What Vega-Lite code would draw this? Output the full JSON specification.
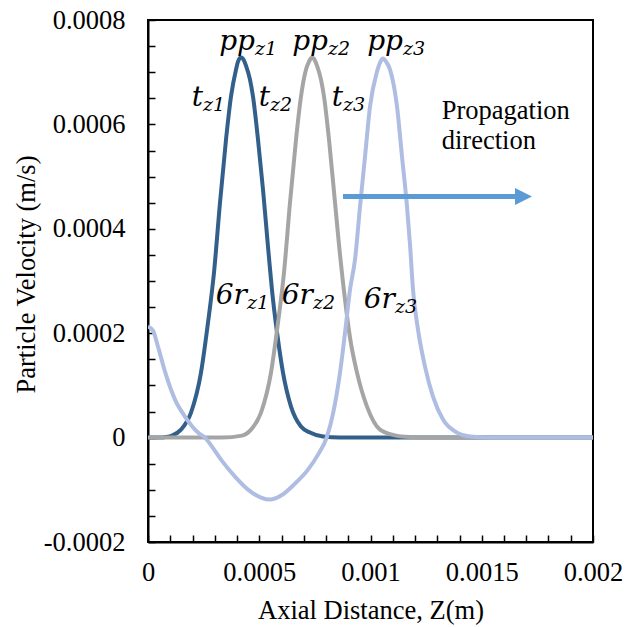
{
  "$schema": "https://vega.github.io/schema/vega-lite/v6.json",
  "width": 445,
  "height": 522,
  "autosize": {"type": "none"},
  "padding": {"left": 148, "top": 20, "right": 45, "bottom": 85},
  "background": "white",
  "config": {
    "view": {"stroke": "black", "strokeWidth": 2},
    "axis": {
      "grid": false,
      "domainColor": "black",
      "domainWidth": 2,
      "tickColor": "black",
      "tickWidth": 1.5,
      "tickSize": -7,
      "labelFont": "Liberation Serif",
      "labelFontSize": 26.5,
      "labelColor": "black",
      "labelOverlap": false,
      "labelFlush": false,
      "titleFont": "Liberation Serif",
      "titleFontSize": 26.5,
      "titleFontWeight": "normal",
      "titleColor": "black"
    }
  },
  "encoding": {
    "x": {
      "field": "x",
      "type": "quantitative",
      "scale": {"domain": [0, 0.002], "nice": false, "zero": false},
      "axis": {
        "title": "Axial Distance, Z(m)",
        "values": [0, 0.0001, 0.0002, 0.0003, 0.0004, 0.0005, 0.0006, 0.0007, 0.0008, 0.0009, 0.001, 0.0011, 0.0012, 0.0013, 0.0014, 0.0015, 0.0016, 0.0017, 0.0018, 0.0019, 0.002],
        "labelExpr": "round(datum.value*10000) % 5 == 0 ? (datum.value == 0 ? '0' : format(datum.value, '~g')) : ''",
        "labelPadding": 24,
        "titlePadding": 12
      }
    },
    "y": {
      "field": "y",
      "type": "quantitative",
      "scale": {"domain": [-0.0002, 0.0008], "nice": false, "zero": false},
      "axis": {
        "title": "Particle Velocity (m/s)",
        "values": [-0.0002, -0.00015, -0.0001, -0.00005, 0, 0.00005, 0.0001, 0.00015, 0.0002, 0.00025, 0.0003, 0.00035, 0.0004, 0.00045, 0.0005, 0.00055, 0.0006, 0.00065, 0.0007, 0.00075, 0.0008],
        "labelExpr": "abs(round(datum.value*100000)) % 20 == 0 ? (datum.value == 0 ? '0' : (datum.value < 0 ? '-' : '') + format(abs(datum.value), '.4f')) : ''",
        "labelPadding": 30,
        "titlePadding": 3,
        "titleY": 254
      }
    }
  },
  "layer": [
    {
      "data": {"values": [
        {"s": "z1", "x": 0, "y": 0}, {"s": "z1", "x": 0.0000539, "y": 0}, {"s": "z1", "x": 0.0000764, "y": 0.000001},
        {"s": "z1", "x": 0.0001079, "y": 0.0000038}, {"s": "z1", "x": 0.0001483, "y": 0.0000153}, {"s": "z1", "x": 0.0001933, "y": 0.0000479},
        {"s": "z1", "x": 0.0002382, "y": 0.0001245}, {"s": "z1", "x": 0.0002697, "y": 0.0002203}, {"s": "z1", "x": 0.0002966, "y": 0.0003161},
        {"s": "z1", "x": 0.0003236, "y": 0.0004502}, {"s": "z1", "x": 0.0003506, "y": 0.0005709}, {"s": "z1", "x": 0.000373, "y": 0.0006533},
        {"s": "z1", "x": 0.0003955, "y": 0.000705}, {"s": "z1", "x": 0.0004045, "y": 0.0007203}, {"s": "z1", "x": 0.000418, "y": 0.000728},
        {"s": "z1", "x": 0.0004315, "y": 0.0007222}, {"s": "z1", "x": 0.0004404, "y": 0.0007126}, {"s": "z1", "x": 0.0004584, "y": 0.0006858},
        {"s": "z1", "x": 0.0004719, "y": 0.0006533}, {"s": "z1", "x": 0.0004944, "y": 0.0005709}, {"s": "z1", "x": 0.0005169, "y": 0.0004751},
        {"s": "z1", "x": 0.0005393, "y": 0.0003659}, {"s": "z1", "x": 0.0005618, "y": 0.0002644}, {"s": "z1", "x": 0.0005843, "y": 0.0001877},
        {"s": "z1", "x": 0.0006067, "y": 0.0001245}, {"s": "z1", "x": 0.0006427, "y": 0.0000594}, {"s": "z1", "x": 0.0006876, "y": 0.0000211},
        {"s": "z1", "x": 0.0007281, "y": 0.0000096}, {"s": "z1", "x": 0.0007865, "y": 0.0000019}, {"s": "z1", "x": 0.0008629, "y": 0},
        {"s": "z1", "x": 0.002, "y": 0},

        {"s": "z2", "x": 0, "y": 0}, {"s": "z2", "x": 0.0003326, "y": 0}, {"s": "z2", "x": 0.0004225, "y": 0.0000038},
        {"s": "z2", "x": 0.0004629, "y": 0.0000153}, {"s": "z2", "x": 0.0005079, "y": 0.0000479}, {"s": "z2", "x": 0.0005528, "y": 0.0001245},
        {"s": "z2", "x": 0.0005843, "y": 0.0002203}, {"s": "z2", "x": 0.0006112, "y": 0.0003161}, {"s": "z2", "x": 0.0006382, "y": 0.0004502},
        {"s": "z2", "x": 0.0006652, "y": 0.0005709}, {"s": "z2", "x": 0.0006876, "y": 0.0006533}, {"s": "z2", "x": 0.0007101, "y": 0.000705},
        {"s": "z2", "x": 0.0007236, "y": 0.0007203}, {"s": "z2", "x": 0.0007371, "y": 0.000728}, {"s": "z2", "x": 0.0007506, "y": 0.0007222},
        {"s": "z2", "x": 0.0007595, "y": 0.0007126}, {"s": "z2", "x": 0.0007775, "y": 0.0006858}, {"s": "z2", "x": 0.000791, "y": 0.0006533},
        {"s": "z2", "x": 0.0008135, "y": 0.0005709}, {"s": "z2", "x": 0.0008359, "y": 0.0004713}, {"s": "z2", "x": 0.0008584, "y": 0.0003697},
        {"s": "z2", "x": 0.0008854, "y": 0.0002644}, {"s": "z2", "x": 0.0009079, "y": 0.0001916}, {"s": "z2", "x": 0.0009393, "y": 0.0001245},
        {"s": "z2", "x": 0.0009843, "y": 0.0000594}, {"s": "z2", "x": 0.0010427, "y": 0.0000153}, {"s": "z2", "x": 0.0011056, "y": 0.0000048},
        {"s": "z2", "x": 0.0011776, "y": 0.000001}, {"s": "z2", "x": 0.0012675, "y": 0}, {"s": "z2", "x": 0.002, "y": 0},

        {"s": "z3", "x": 0, "y": 0.0002126}, {"s": "z3", "x": 0.0000225, "y": 0.000205}, {"s": "z3", "x": 0.0000449, "y": 0.0001743},
        {"s": "z3", "x": 0.0000764, "y": 0.0001264}, {"s": "z3", "x": 0.0001214, "y": 0.0000728}, {"s": "z3", "x": 0.0001663, "y": 0.0000402},
        {"s": "z3", "x": 0.0002247, "y": 0.0000096}, {"s": "z3", "x": 0.0002562, "y": 0}, {"s": "z3", "x": 0.0002876, "y": -0.0000172},
        {"s": "z3", "x": 0.0003281, "y": -0.0000421}, {"s": "z3", "x": 0.000391, "y": -0.0000747}, {"s": "z3", "x": 0.0004495, "y": -0.0000996},
        {"s": "z3", "x": 0.0005079, "y": -0.0001149}, {"s": "z3", "x": 0.0005483, "y": -0.0001188}, {"s": "z3", "x": 0.0005978, "y": -0.0001111},
        {"s": "z3", "x": 0.0006607, "y": -0.0000881}, {"s": "z3", "x": 0.0007191, "y": -0.0000613}, {"s": "z3", "x": 0.0007641, "y": -0.0000326},
        {"s": "z3", "x": 0.0008045, "y": 0.0000019}, {"s": "z3", "x": 0.0008315, "y": 0.000046}, {"s": "z3", "x": 0.000863, "y": 0.0001245},
        {"s": "z3", "x": 0.0008855, "y": 0.0002011}, {"s": "z3", "x": 0.0009079, "y": 0.0002835}, {"s": "z3", "x": 0.0009304, "y": 0.000341},
        {"s": "z3", "x": 0.0009529, "y": 0.0004425}, {"s": "z3", "x": 0.0009754, "y": 0.0005383}, {"s": "z3", "x": 0.0009978, "y": 0.0006341},
        {"s": "z3", "x": 0.0010293, "y": 0.0007011}, {"s": "z3", "x": 0.0010428, "y": 0.0007184}, {"s": "z3", "x": 0.0010563, "y": 0.0007261},
        {"s": "z3", "x": 0.0010698, "y": 0.0007203}, {"s": "z3", "x": 0.0010877, "y": 0.000705}, {"s": "z3", "x": 0.0011192, "y": 0.0006341},
        {"s": "z3", "x": 0.0011416, "y": 0.0005383}, {"s": "z3", "x": 0.0011641, "y": 0.0004425}, {"s": "z3", "x": 0.0011776, "y": 0.0003697},
        {"s": "z3", "x": 0.001191, "y": 0.0002835}, {"s": "z3", "x": 0.0012135, "y": 0.0002069}, {"s": "z3", "x": 0.001245, "y": 0.000136},
        {"s": "z3", "x": 0.0012809, "y": 0.0000785}, {"s": "z3", "x": 0.0013259, "y": 0.0000345}, {"s": "z3", "x": 0.0013888, "y": 0.0000096},
        {"s": "z3", "x": 0.0014473, "y": 0.0000019}, {"s": "z3", "x": 0.0015371, "y": 0}, {"s": "z3", "x": 0.002, "y": 0}
      ]},
      "mark": {"type": "line", "interpolate": "monotone", "strokeWidth": 4, "clip": true},
      "encoding": {
        "color": {
          "field": "s",
          "type": "nominal",
          "scale": {"domain": ["z1", "z2", "z3"], "range": ["#335F8B", "#A5A5A5", "#AFBDE3"]},
          "legend": null
        }
      }
    },
    {
      "data": {"values": [{"x": 0.0008764, "x2": 0.0016652, "y": 0.000462}]},
      "mark": {"type": "rule", "color": "#5B9BD5", "strokeWidth": 5},
      "encoding": {"x2": {"field": "x2"}}
    },
    {
      "data": {"values": [{"x": 0.0016876, "y": 0.000462}]},
      "mark": {"type": "point", "shape": "M-1,-1L1,0L-1,1Z", "filled": true, "size": 289, "color": "#5B9BD5", "opacity": 1, "strokeWidth": 0}
    },
    {
      "data": {"name": "labels", "values": [
        {"x": 0.000481, "y": 0.000743, "main": "pp", "sub": "z1"},
        {"x": 0.000809, "y": 0.000743, "main": "pp", "sub": "z2"},
        {"x": 0.0011461, "y": 0.000743, "main": "pp", "sub": "z3"},
        {"x": 0.0002472, "y": 0.000636, "main": "t", "sub": "z1"},
        {"x": 0.0005483, "y": 0.000636, "main": "t", "sub": "z2"},
        {"x": 0.0008764, "y": 0.000636, "main": "t", "sub": "z3"},
        {"x": 0.000445, "y": 0.0002567, "main": "6r", "sub": "z1"},
        {"x": 0.0007416, "y": 0.0002567, "main": "6r", "sub": "z2"},
        {"x": 0.0011101, "y": 0.000249, "main": "6r", "sub": "z3"}
      ]},
      "layer": [
        {
          "mark": {"type": "text", "font": "DejaVu Serif", "fontStyle": "italic", "fontSize": 28, "align": "right", "baseline": "alphabetic", "color": "black"},
          "encoding": {"text": {"field": "main"}}
        },
        {
          "mark": {"type": "text", "font": "DejaVu Serif", "fontStyle": "italic", "fontSize": 19, "align": "left", "baseline": "alphabetic", "dy": 5, "color": "black"},
          "encoding": {"text": {"field": "sub"}}
        }
      ]
    },
    {
      "data": {"values": [
        {"x": 0.001320, "y": 0.0006111, "t": "Propagation"},
        {"x": 0.001320, "y": 0.0005536, "t": "direction"}
      ]},
      "mark": {"type": "text", "font": "Liberation Serif", "fontSize": 26.5, "align": "left", "baseline": "alphabetic", "color": "black"},
      "encoding": {"text": {"field": "t"}}
    }
  ]
}
